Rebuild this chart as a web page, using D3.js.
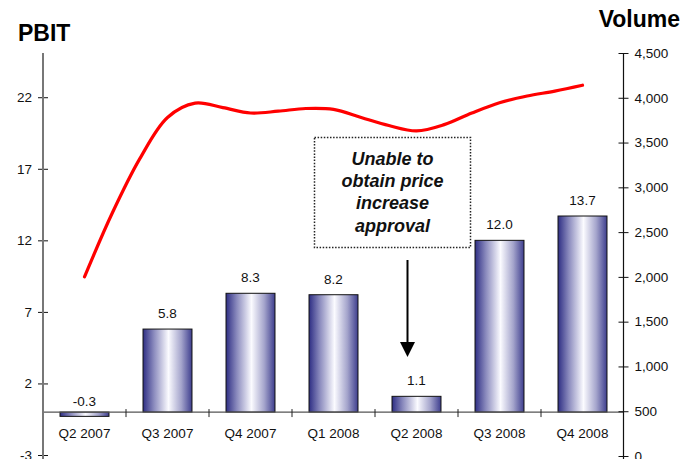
<!DOCTYPE html>
<html>
<head>
<meta charset="utf-8">
<script src="https://cdn.jsdelivr.net/npm/d3@7"></script>
<style>
  html, body { margin: 0; padding: 0; background: #fff; }
  svg { display: block; font-family: Arial, "Liberation Sans", sans-serif; }
</style>
</head>
<body>
<svg id="chart" width="687" height="459"></svg>
<script>
// Quarterly PBIT (left axis) and monthly volume (right axis)
const quarters = ["Q2 2007", "Q3 2007", "Q4 2007", "Q1 2008", "Q2 2008", "Q3 2008", "Q4 2008"];
const pbit = [-0.3, 5.8, 8.3, 8.2, 1.1, 12.0, 13.7];

const months = ["May 2007", "Jun 2007", "Jul 2007", "Aug 2007", "Sep 2007", "Oct 2007", "Nov 2007",
                "Dec 2007", "Jan 2008", "Feb 2008", "Mar 2008", "Apr 2008", "May 2008", "Jun 2008",
                "Jul 2008", "Aug 2008", "Sep 2008", "Oct 2008", "Nov 2008"];
const volume = [2000, 2710, 3320, 3780, 3940, 3890, 3830, 3850, 3880, 3870, 3780, 3690, 3630, 3700,
                3830, 3945, 4020, 4075, 4140];

const pbitTicks = [-3, 2, 7, 12, 17, 22];
const volumeTicks = [0, 500, 1000, 1500, 2000, 2500, 3000, 3500, 4000, 4500];

const annotationLines = ["Unable to", "obtain price", "increase", "approval"];

// Plain hyphen for negative numbers
const hyphen = (s) => s.replace("\u2212", "-");
const fmtValue = (v) => hyphen(d3.format(".1f")(v));
const fmtInt = (v) => hyphen(d3.format("d")(v));

const svg = d3.select("#chart");

const left = 43, right = 624;

const x = d3.scaleBand().domain(quarters).range([left, right]).padding(0);
const yL = d3.scaleLinear().domain([-3, 25]).range([455, 54.3]);
const yR = d3.scaleLinear().domain([0, 4500]).range([456, 53]);
const xm = d3.scalePoint().domain(months)
  .range([x(quarters[0]) + x.bandwidth() / 2, x(quarters[quarters.length - 1]) + x.bandwidth() / 2]);

// Bar gradient: dark navy edges with a bright sheen
const defs = svg.append("defs");
const grad = defs.append("linearGradient").attr("id", "barGrad")
  .attr("x1", "0%").attr("x2", "100%").attr("y1", "0%").attr("y2", "0%");
grad.append("stop").attr("offset", "0%").attr("stop-color", "#2e2e84");
grad.append("stop").attr("offset", "22%").attr("stop-color", "#8a8abd");
grad.append("stop").attr("offset", "52%").attr("stop-color", "#fbfbff");
grad.append("stop").attr("offset", "78%").attr("stop-color", "#a5a5cc");
grad.append("stop").attr("offset", "100%").attr("stop-color", "#3e3e8e");

// Titles
svg.append("text").attr("x", 18).attr("y", 41)
  .attr("font-size", 23).attr("font-weight", "bold").attr("fill", "#000").text("PBIT");
svg.append("text").attr("x", 680).attr("y", 27).attr("text-anchor", "end")
  .attr("font-size", 23).attr("font-weight", "bold").attr("fill", "#000").text("Volume");

// Bars
const barW = x.bandwidth() * 0.59;
svg.append("g").selectAll("rect").data(quarters).join("rect")
  .attr("x", (d) => x(d) + (x.bandwidth() - barW) / 2)
  .attr("y", (d, i) => yL(Math.max(0, pbit[i])))
  .attr("width", barW)
  .attr("height", (d, i) => Math.abs(yL(pbit[i]) - yL(0)))
  .attr("fill", "url(#barGrad)")
  .attr("stroke", "#111")
  .attr("stroke-width", 1);

// Value labels
svg.append("g").selectAll("text").data(quarters).join("text")
  .attr("x", (d) => x(d) + x.bandwidth() / 2)
  .attr("y", (d, i) => pbit[i] >= 0 ? yL(pbit[i]) - 11 : yL(0) - 6)
  .attr("text-anchor", "middle")
  .attr("font-size", 13.5)
  .attr("fill", "#111")
  .text((d, i) => fmtValue(pbit[i]));

// Zero baseline and category ticks
const y0 = yL(0);
svg.append("line").attr("x1", left).attr("x2", right).attr("y1", y0).attr("y2", y0)
  .attr("stroke", "#555").attr("stroke-width", 1.2);
svg.append("g").selectAll("line").data(quarters.slice(1)).join("line")
  .attr("x1", (d) => x(d)).attr("x2", (d) => x(d))
  .attr("y1", y0 - 3).attr("y2", y0 + 5)
  .attr("stroke", "#222").attr("stroke-width", 1);
svg.append("g").selectAll("text").data(quarters).join("text")
  .attr("x", (d) => x(d) + x.bandwidth() / 2)
  .attr("y", 437.5)
  .attr("text-anchor", "middle")
  .attr("font-size", 13.5)
  .attr("fill", "#111")
  .text((d) => d);

// Left axis
const gL = svg.append("g").attr("transform", `translate(${left},0)`)
  .call(d3.axisLeft(yL).tickValues(pbitTicks).tickSize(5).tickPadding(6).tickFormat(fmtInt));
gL.select(".domain").remove();
gL.append("line").attr("x1", 0).attr("x2", 0).attr("y1", 53).attr("y2", 459)
  .attr("stroke", "#777").attr("stroke-width", 2);
gL.selectAll(".tick line").attr("x1", -5).attr("x2", 5).attr("stroke", "#111");
gL.selectAll(".tick text").attr("font-size", 13.5).attr("font-family", "Arial, 'Liberation Sans', sans-serif")
  .attr("fill", "#111").attr("x", -11);

// Right axis
const gR = svg.append("g").attr("transform", `translate(${right - 0.5},0)`)
  .call(d3.axisRight(yR).tickValues(volumeTicks).tickSize(5).tickFormat(d3.format(",")));
gR.select(".domain").remove();
gR.append("line").attr("x1", 0).attr("x2", 0).attr("y1", 53).attr("y2", 459)
  .attr("stroke", "#111").attr("stroke-width", 1.2);
gR.selectAll(".tick line").attr("x1", -5).attr("x2", 5).attr("stroke", "#111");
gR.selectAll(".tick text").attr("font-size", 13.5).attr("font-family", "Arial, 'Liberation Sans', sans-serif")
  .attr("fill", "#111").attr("x", 11);

// Volume line
const line = d3.line()
  .x((d, i) => xm(months[i]))
  .y((d) => yR(d))
  .curve(d3.curveCatmullRom.alpha(0.5));
svg.append("path").datum(volume)
  .attr("d", line)
  .attr("fill", "none")
  .attr("stroke", "#ff0000")
  .attr("stroke-width", 3.2)
  .attr("stroke-linecap", "round")
  .attr("stroke-linejoin", "round");

// Annotation box and arrow
const note = svg.append("g");
note.append("rect").attr("x", 314.5).attr("y", 137.5).attr("width", 156).attr("height", 110)
  .attr("fill", "none").attr("stroke", "#222").attr("stroke-width", 1.5)
  .attr("stroke-dasharray", "1.5 1.6");
note.selectAll("text").data(annotationLines).join("text")
  .attr("x", 392.5)
  .attr("y", (d, i) => 165 + i * 22.2)
  .attr("text-anchor", "middle")
  .attr("font-size", 18)
  .attr("font-weight", "bold")
  .attr("font-style", "italic")
  .attr("fill", "#111")
  .text((d) => d);
note.append("line").attr("x1", 407.5).attr("x2", 407.5).attr("y1", 260).attr("y2", 344)
  .attr("stroke", "#000").attr("stroke-width", 2);
note.append("path").attr("d", "M400,342 L415,342 L407.5,357 Z").attr("fill", "#000");
</script>
</body>
</html>
